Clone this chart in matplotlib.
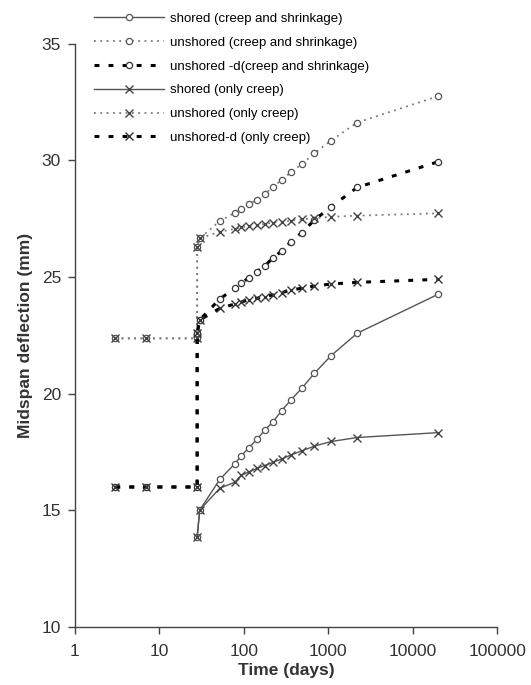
import matplotlib
matplotlib.use('Agg')
import matplotlib.pyplot as plt
from matplotlib.ticker import FixedLocator, FixedFormatter, NullLocator

plt.rcParams['font.family'] = ['Liberation Sans', 'DejaVu Sans']

# times (days)
t_pre = [3, 7, 28, 28, 30]
t_late = [52, 78, 93, 115, 143, 177, 219, 280, 361, 485, 684, 1080, 2200, 20000]
t_shored = [28, 30]

# midspan deflection (mm)
shored_cs = [13.84, 15.01, 16.33, 16.99, 17.33, 17.69, 18.04, 18.44, 18.77, 19.27,
             19.73, 20.23, 20.87, 21.63, 22.59, 24.26]
shored_c = [13.84, 15.01, 15.95, 16.2, 16.5, 16.65, 16.8, 16.92, 17.05, 17.2,
            17.37, 17.55, 17.75, 17.95, 18.12, 18.33]
unshored_cs = [22.37, 22.37, 22.37, 26.3, 26.66, 27.40, 27.75, 27.92, 28.12, 28.32,
               28.55, 28.85, 29.16, 29.49, 29.84, 30.30, 30.85, 31.62, 32.75]
unshored_c = [22.37, 22.37, 22.37, 26.3, 26.66, 26.94, 27.06, 27.13, 27.19, 27.23,
              27.27, 27.33, 27.37, 27.41, 27.47, 27.52, 27.58, 27.63, 27.73]
unshored_d_cs = [16.0, 16.0, 16.0, 22.6, 23.16, 24.06, 24.52, 24.73, 24.97, 25.23,
                 25.48, 25.80, 26.11, 26.51, 26.90, 27.44, 28.01, 28.84, 29.94]
unshored_d_c = [16.0, 16.0, 16.0, 22.6, 23.16, 23.66, 23.84, 23.94, 24.01, 24.09,
                24.16, 24.23, 24.33, 24.44, 24.52, 24.61, 24.70, 24.77, 24.90]

labels = ['shored (creep and shrinkage)', 'unshored (creep and shrinkage)',
          'unshored -d(creep and shrinkage)', 'shored (only creep)',
          'unshored (only creep)', 'unshored-d (only creep)']

xticks = [1, 10, 100, 1000, 10000, 100000]
xticklabels = ['1', '10', '100', '1000', '10000', '100000']
yticks = [10, 15, 20, 25, 30, 35]

fig = plt.figure(figsize=(5.31, 6.85), dpi=100)
ax = fig.add_axes([0.1412, 0.0847, 0.7950, 0.8515])

solid = dict(color='#555555', lw=1.0, ls='-')
dotted = dict(color='#7a7a7a', lw=1.3, ls=(0, (1, 2.5)))
dashed = dict(color='black', lw=2.2, ls=(0, (1.6, 3.0)))
circ = dict(marker='o', ms=4.5, mfc='white', mew=0.9)
cross = dict(marker='x', ms=5.5, mew=1.0)

ax.plot(t_shored + t_late, shored_cs, label=labels[0], mec='#555555', **solid, **circ)
ax.plot(t_pre + t_late, unshored_cs, label=labels[1], mec='#555555', **dotted, **circ)
ax.plot(t_pre + t_late, unshored_d_cs, label=labels[2], mec='#333333', **dashed, **circ)
ax.plot(t_shored + t_late, shored_c, label=labels[3], mec='#444444', **solid, **cross)
ax.plot(t_pre + t_late, unshored_c, label=labels[4], mec='#444444', **dotted, **cross)
ax.plot(t_pre + t_late, unshored_d_c, label=labels[5], mec='#333333', **dashed, **cross)

ax.set_xscale('log')
ax.set_xlim(1, 100000)
ax.set_ylim(10, 35)
ax.xaxis.set_major_locator(FixedLocator(xticks))
ax.xaxis.set_major_formatter(FixedFormatter(xticklabels))
ax.xaxis.set_minor_locator(NullLocator())
ax.set_yticks(yticks)

for s in ['top', 'right']:
    ax.spines[s].set_visible(False)
for s in ['left', 'bottom']:
    ax.spines[s].set_color('#444444')
    ax.spines[s].set_linewidth(1.0)
ax.tick_params(direction='out', length=5, width=1, color='#444444',
               labelsize=12.5, labelcolor='#333333')
ax.tick_params(axis='x', pad=7)
ax.tick_params(axis='y', pad=5)

ax.set_xlabel('Time (days)', fontsize=12.5, fontweight='bold', color='#333333', labelpad=3)
ax.set_ylabel('Midspan deflection (mm)', fontsize=12.5, fontweight='bold', color='#333333', labelpad=6)

fig.legend(loc='upper left', bbox_to_anchor=(0.158, 0.997), frameon=False,
           fontsize=9.5, handlelength=5.3, handletextpad=0.4, labelspacing=0.88,
           numpoints=1, borderpad=0.3)

fig.savefig('out.png', dpi=100)
